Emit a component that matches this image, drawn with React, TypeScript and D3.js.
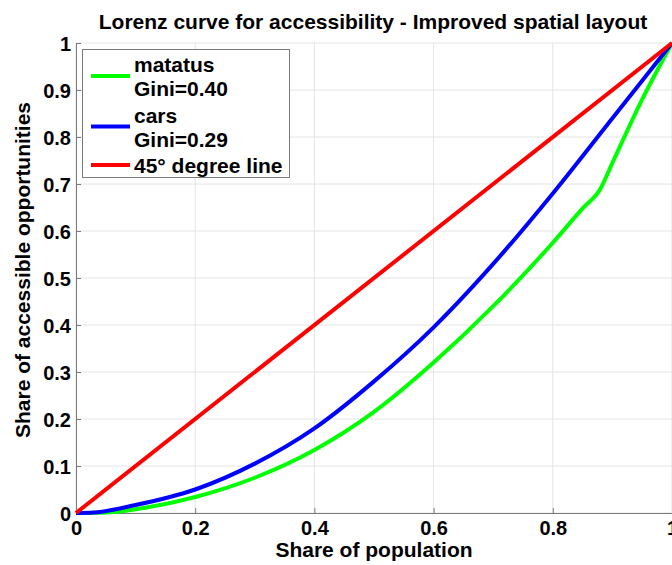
import React, { useEffect, useRef } from 'react'
import * as d3 from 'd3'

const WIDTH = 672
const HEIGHT = 565
const FONT = '"Liberation Sans", Arial, Helvetica, sans-serif'

const TITLE = 'Lorenz curve for accessibility - Improved spatial layout'
const X_LABEL = 'Share of population'
const Y_LABEL = 'Share of accessible opportunities'

const xTicks = [0, 0.2, 0.4, 0.6, 0.8, 1]
const xTickLabels = ['0', '0.2', '0.4', '0.6', '0.8', '1']
const yTicks = [0, 0.1, 0.2, 0.3, 0.4, 0.5, 0.6, 0.7, 0.8, 0.9, 1]
const yTickLabels = ['0', '0.1', '0.2', '0.3', '0.4', '0.5', '0.6', '0.7', '0.8', '0.9', '1']

// matatus, Gini=0.40
const matatusX = [0, 0.05, 0.1, 0.2, 0.3, 0.4, 0.5, 0.6, 0.7, 0.8, 0.85, 0.88, 0.9, 0.95, 1]
const matatusY = [0, 0.001, 0.008, 0.034, 0.075, 0.134, 0.215, 0.32, 0.44, 0.575, 0.648, 0.69, 0.745, 0.88, 1]

// cars, Gini=0.29
const carsX = [0, 0.03, 0.1, 0.2, 0.3, 0.4, 0.5, 0.6, 0.7, 0.8, 0.9, 1]
const carsY = [0, 0.001, 0.017, 0.05, 0.105, 0.18, 0.28, 0.395, 0.53, 0.68, 0.84, 1]

// 45 degree line
const equalX = [0, 1]
const equalY = [0, 1]

const seriesNames = [['matatus', 'Gini=0.40'], ['cars', 'Gini=0.29'], ['45° degree line']]
const seriesColors = ['#00ff00', '#0000ff', '#ff0000']

export default function App() {
  const ref = useRef<SVGSVGElement>(null)

  useEffect(() => {
    const svg = d3.select(ref.current)
    svg.selectAll('*').remove()

    const xScale = d3.scaleLinear().domain([0, 1]).range([76, 672])
    const yScale = d3.scaleLinear().domain([0, 1]).range([513, 43])

    svg.append('rect').attr('width', WIDTH).attr('height', HEIGHT).attr('fill', 'white')

    // grid
    const grid = svg.append('g').attr('class', 'grid')
    grid.selectAll('line.gx')
      .data(xTicks)
      .enter()
      .append('line')
      .attr('x1', d => xScale(d)).attr('x2', d => xScale(d))
      .attr('y1', yScale(0)).attr('y2', yScale(1))
      .attr('stroke', '#e4e4e4').attr('stroke-width', 1)
    grid.selectAll('line.gy')
      .data(yTicks)
      .enter()
      .append('line')
      .attr('y1', d => yScale(d)).attr('y2', d => yScale(d))
      .attr('x1', xScale(0)).attr('x2', xScale(1))
      .attr('stroke', '#e4e4e4').attr('stroke-width', 1)

    // axes
    const xAxis = svg.append('g')
      .attr('transform', `translate(0, ${yScale(0)})`)
      .call(d3.axisBottom(xScale).tickValues(xTicks).tickSize(-5).tickFormat((d, i) => xTickLabels[i]))
    const yAxis = svg.append('g')
      .attr('transform', `translate(${xScale(0)}, 0)`)
      .call(d3.axisLeft(yScale).tickValues(yTicks).tickSize(-5).tickFormat((d, i) => yTickLabels[i]))

    ;[xAxis, yAxis].forEach(ax => {
      ax.select('.domain').attr('stroke', '#7a7a7a').attr('stroke-width', 1)
      ax.selectAll('.tick line').attr('stroke', '#7a7a7a')
      ax.selectAll('.tick text')
        .attr('font-family', FONT)
        .attr('font-weight', 'bold')
        .attr('font-size', 20)
        .attr('fill', '#000')
    })
    xAxis.selectAll('.tick text').attr('y', 8).attr('dy', '0.71em')
    yAxis.selectAll('.tick text').attr('x', -5).attr('dy', '0.35em')

    // curves
    const line = d3.line<[number, number]>()
      .x(d => xScale(d[0]))
      .y(d => yScale(d[1]))
      .curve(d3.curveMonotoneX)

    const series: [number[], number[]][] = [[matatusX, matatusY], [carsX, carsY], [equalX, equalY]]
    series.forEach(([xs, ys], i) => {
      svg.append('path')
        .datum(xs.map((x, j) => [x, ys[j]] as [number, number]))
        .attr('d', line)
        .attr('fill', 'none')
        .attr('stroke', seriesColors[i])
        .attr('stroke-width', 4)
        .attr('stroke-linejoin', 'round')
    })

    // title and labels
    svg.append('text')
      .attr('x', 373).attr('y', 29)
      .attr('text-anchor', 'middle')
      .attr('font-family', FONT).attr('font-weight', 'bold').attr('font-size', 21)
      .text(TITLE)
    svg.append('text')
      .attr('x', 374).attr('y', 557)
      .attr('text-anchor', 'middle')
      .attr('font-family', FONT).attr('font-weight', 'bold').attr('font-size', 21)
      .text(X_LABEL)
    svg.append('text')
      .attr('transform', `translate(30, 270) rotate(-90)`)
      .attr('text-anchor', 'middle')
      .attr('font-family', FONT).attr('font-weight', 'bold').attr('font-size', 21)
      .text(Y_LABEL)

    // legend
    const legend = svg.append('g').attr('class', 'legend')
    legend.append('rect')
      .attr('x', 82.5).attr('y', 49.5)
      .attr('width', 207).attr('height', 128)
      .attr('fill', 'white').attr('stroke', '#7a7a7a').attr('stroke-width', 1)

    let baseline = 72
    seriesNames.forEach((lines, i) => {
      const first = baseline
      lines.forEach((t, k) => {
        legend.append('text')
          .attr('x', 134).attr('y', baseline)
          .attr('font-family', FONT).attr('font-weight', 'bold').attr('font-size', 21)
          .text(t)
        if (k < lines.length - 1) baseline += 24
      })
      const symY = (first + baseline) / 2 - 8
      legend.append('line')
        .attr('x1', 91).attr('x2', 130)
        .attr('y1', symY).attr('y2', symY)
        .attr('stroke', seriesColors[i]).attr('stroke-width', 4)
      baseline += 26.5
    })
  }, [])

  return (
    <svg
      ref={ref}
      width={WIDTH}
      height={HEIGHT}
      style={{ position: 'absolute', left: 0, top: 0, display: 'block' }}
    />
  )
}
